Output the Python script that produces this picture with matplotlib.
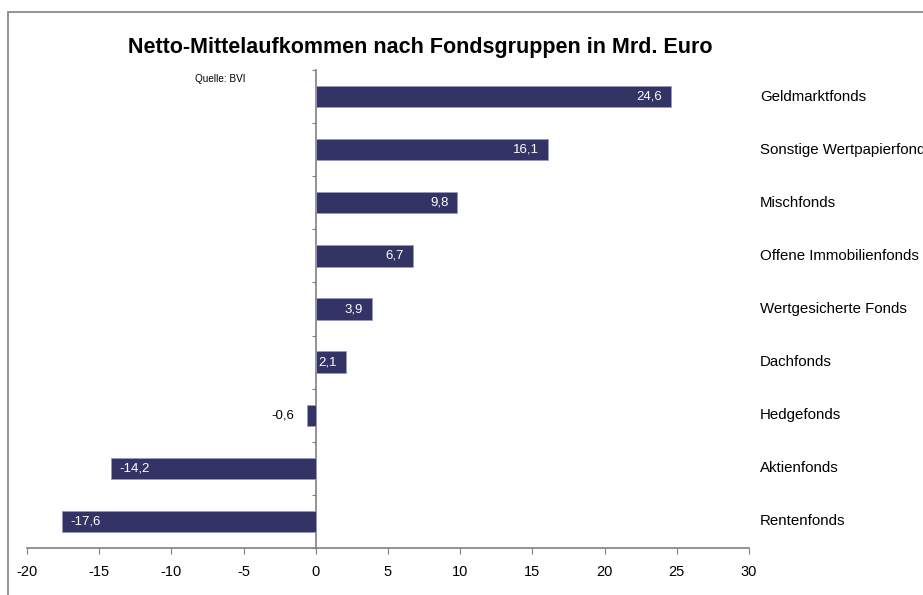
import matplotlib.pyplot as plt
from matplotlib.patches import Rectangle

plt.rcParams['font.family'] = ['Liberation Sans', 'DejaVu Sans']

# data (top to bottom)
fonds = ["Geldmarktfonds", "Sonstige Wertpapierfonds", "Mischfonds",
         "Offene Immobilienfonds", "Wertgesicherte Fonds", "Dachfonds",
         "Hedgefonds", "Aktienfonds", "Rentenfonds"]
werte = [24.6, 16.1, 9.8, 6.7, 3.9, 2.1, -0.6, -14.2, -17.6]
xticks = [-20, -15, -10, -5, 0, 5, 10, 15, 20, 25, 30]

bar_col = "#333366"
axis_col = "#808080"

fig = plt.figure(figsize=(9.23, 5.95), dpi=100)
ax = fig.add_axes([27/923, 1 - 548/595, 722/923, 478/595])

n = len(fonds)
ypos = list(range(n))
ax.barh(ypos, werte, height=0.4, color=bar_col, edgecolor="#9999bb", linewidth=0.6, zorder=3)
ax.set_xlim(-20, 30)
ax.set_ylim(n - 0.5, -0.5)

# spines
for s in ["top", "right"]:
    ax.spines[s].set_visible(False)
ax.spines["left"].set_position(("data", 0))
ax.spines["left"].set_color(axis_col)
ax.spines["bottom"].set_color(axis_col)
ax.spines["left"].set_linewidth(1.2)
ax.spines["bottom"].set_linewidth(1.2)

ax.set_xticks(xticks)
ax.set_xticklabels([str(t) for t in xticks], fontsize=10.5)
ax.tick_params(axis="x", direction="out", length=4, color=axis_col, pad=8)
ax.set_yticks([i - 0.5 for i in range(n + 1)])
ax.set_yticklabels([])
ax.tick_params(axis="y", direction="out", length=3, color=axis_col)

# value labels
for y, v in zip(ypos, werte):
    txt = f"{v:.1f}".replace(".", ",")
    if v > 0:
        ax.annotate(txt, (v, y), xytext=(-6.5, 0), textcoords="offset points",
                    ha="right", va="center", color="white", fontsize=9.5, zorder=4)
    elif v > -2:
        ax.annotate(txt, (v, y), xytext=(-9, 0), textcoords="offset points",
                    ha="right", va="center", color="black", fontsize=9.5, zorder=4)
    else:
        ax.annotate(txt, (v, y), xytext=(6.5, 0), textcoords="offset points",
                    ha="left", va="center", color="white", fontsize=9.5, zorder=4)

# category labels on the right
for y, name in zip(ypos, fonds):
    ax.text(30.75, y, name, ha="left", va="center", fontsize=10.8, clip_on=False)

fig.text(420/923, 1 - 47/595, "Netto-Mittelaufkommen nach Fondsgruppen in Mrd. Euro",
         ha="center", va="center", fontsize=15.5, fontweight="bold")
fig.text(195/923, 1 - 79/595, "Quelle: BVI", ha="left", va="center", fontsize=7.2)

# outer chart frame
fig.patches.append(Rectangle((8/923, -0.1), 1.2, 1 - 12/595 + 0.1, transform=fig.transFigure,
                             fill=False, edgecolor=axis_col, linewidth=1.2))

fig.savefig("out.png", dpi=100)
